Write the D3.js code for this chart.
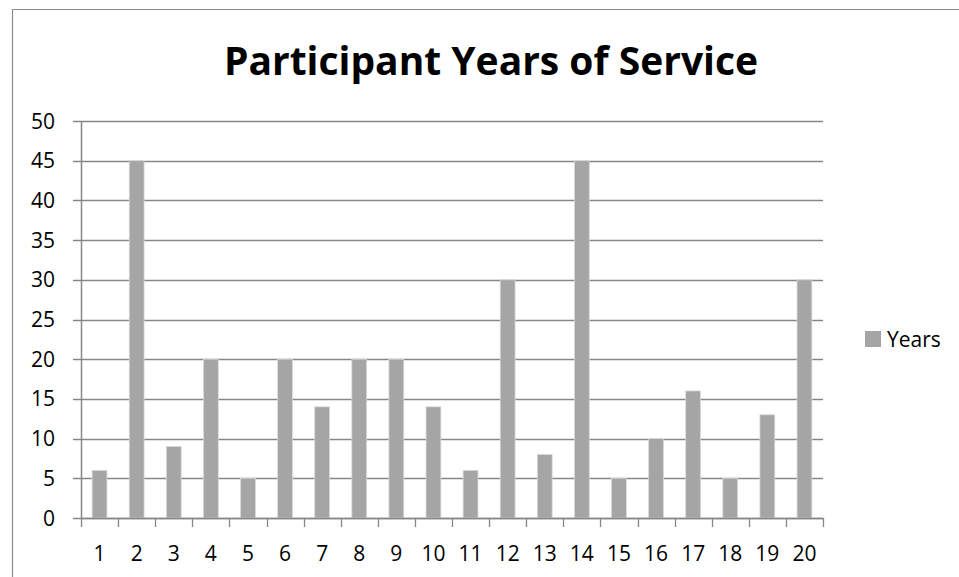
<!DOCTYPE html>
<html>
<head>
<meta charset="utf-8">
<script src="https://cdn.jsdelivr.net/npm/d3@7"></script>
<style>
  html, body { margin: 0; padding: 0; background: #fff; }
  svg { display: block; }
  text { font-family: "Open Sans", "Liberation Sans", sans-serif; fill: #000; }
</style>
</head>
<body>
<svg id="chart" width="959" height="577"></svg>
<script>
// Participant number and their years of service
const participants = ["1","2","3","4","5","6","7","8","9","10","11","12","13","14","15","16","17","18","19","20"];
const years = [6, 45, 9, 20, 5, 20, 14, 20, 20, 14, 6, 30, 8, 45, 5, 10, 16, 5, 13, 30];
const yTicks = [0, 5, 10, 15, 20, 25, 30, 35, 40, 45, 50];
const seriesName = "Years";
const titleText = "Participant Years of Service";

const svg = d3.select("#chart");
const W = 959, H = 577;
const plot = { left: 81, right: 823, top: 121, bottom: 518 };
const barColor = "#a5a5a5";
const axisColor = "#868686";
const labelSize = 21;

// Outer chart frame (top and left edges visible)
svg.append("path")
  .attr("d", `M12.5,${H} L12.5,9.5 L${W},9.5`)
  .attr("fill", "none")
  .attr("stroke", "#8c8c8c")
  .attr("stroke-width", 1.2);

const x = d3.scaleBand().domain(participants).range([plot.left, plot.right]).paddingInner(0.6).paddingOuter(0.3);
const xb = d3.scaleBand().domain(participants).range([plot.left, plot.right]);
const y = d3.scaleLinear().domain([0, 50]).range([plot.bottom, plot.top]);

// Horizontal gridlines, with ticks extending left of the axis
svg.append("g").selectAll("line").data(yTicks).join("line")
  .attr("x1", plot.left - 8).attr("x2", plot.right)
  .attr("y1", d => Math.round(y(d)) + 0.5).attr("y2", d => Math.round(y(d)) + 0.5)
  .attr("stroke", axisColor).attr("stroke-width", 1.3);

// Y axis labels
svg.append("g").selectAll("text").data(yTicks).join("text")
  .attr("x", 55).attr("y", d => y(d))
  .attr("dy", "0.36em")
  .attr("text-anchor", "end")
  .attr("font-size", labelSize)
  .text(d => d);

// Bars
svg.append("g").selectAll("rect").data(years).join("rect")
  .attr("x", (d, i) => x(participants[i]))
  .attr("y", d => y(d))
  .attr("width", x.bandwidth())
  .attr("height", d => y(0) - y(d))
  .attr("fill", barColor)
  .attr("stroke", "#d9d9d9")
  .attr("stroke-width", 0.8);

// Y axis line
svg.append("line")
  .attr("x1", plot.left + 0.5).attr("x2", plot.left + 0.5)
  .attr("y1", plot.top).attr("y2", plot.bottom)
  .attr("stroke", axisColor).attr("stroke-width", 1.5);

// X axis line and category tick marks
svg.append("line")
  .attr("x1", plot.left).attr("x2", plot.right)
  .attr("y1", plot.bottom + 0.5).attr("y2", plot.bottom + 0.5)
  .attr("stroke", axisColor).attr("stroke-width", 1.5);

const boundaries = participants.map(p => xb(p)).concat([plot.right]);
svg.append("g").selectAll("line").data(boundaries).join("line")
  .attr("x1", d => Math.round(d) + 0.5).attr("x2", d => Math.round(d) + 0.5)
  .attr("y1", plot.bottom).attr("y2", plot.bottom + 9)
  .attr("stroke", axisColor).attr("stroke-width", 1.3);

// X axis labels
svg.append("g").selectAll("text").data(participants).join("text")
  .attr("x", d => xb(d) + xb.bandwidth() / 2)
  .attr("y", 561)
  .attr("text-anchor", "middle")
  .attr("font-size", labelSize)
  .text(d => d);

// Title
svg.append("text")
  .attr("x", 491).attr("y", 75)
  .attr("text-anchor", "middle")
  .attr("font-size", 40)
  .attr("font-weight", "bold")
  .attr("textLength", 534)
  .attr("lengthAdjust", "spacingAndGlyphs")
  .text(titleText);

// Legend
svg.append("rect")
  .attr("x", 865).attr("y", 331).attr("width", 16).attr("height", 16)
  .attr("fill", barColor);
svg.append("text")
  .attr("x", 887).attr("y", 339)
  .attr("dy", "0.36em")
  .attr("font-size", labelSize)
  .text(seriesName);
</script>
</body>
</html>
